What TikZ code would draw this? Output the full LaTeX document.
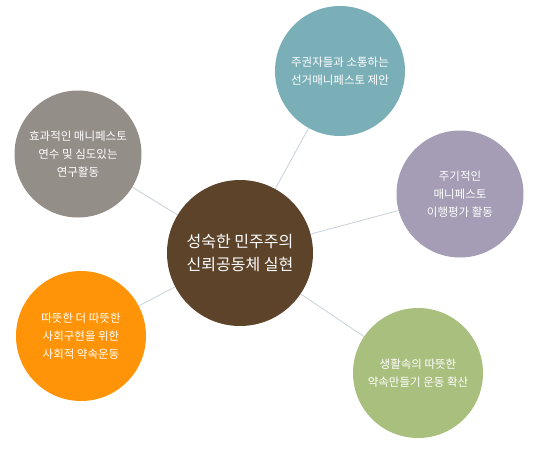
\documentclass[tikz,border=0pt]{standalone}
\usepackage{fontspec}
\setmainfont{Noto Sans CJK KR}
\usepackage{xcolor}
\usetikzlibrary{positioning}
\definecolor{link}{HTML}{C9D1DA}
\definecolor{brown}{HTML}{5C4329}
\definecolor{teal}{HTML}{7BAFB8}
\definecolor{stone}{HTML}{948E88}
\definecolor{lilac}{HTML}{A49DB5}
\definecolor{amber}{HTML}{FF9408}
\definecolor{olive}{HTML}{A9BF7E}

\begin{document}
\begin{tikzpicture}[x=1pt,y=-1pt,
  every node/.style={text=white,align=center},
  bubble/.style={circle,inner sep=0pt,minimum size=130pt,font=\fontsize{11.5}{18}\selectfont},
  hub/.style={circle,inner sep=0pt,minimum size=146pt,fill=brown,font=\fontsize{16}{23}\selectfont},
  link/.style={draw=link,line width=0.8pt}]
  \useasboundingbox (0,0) rectangle (539,451);
  \node[hub] (core) at (240,253) {성숙한 민주주의\\신뢰공동체 실현};
  \node[bubble,fill=teal] (talk) at (340,71) {주권자들과 소통하는\\선거매니페스토 제안};
  \node[bubble,fill=stone,minimum size=127pt] (study) at (78,154) {효과적인 매니페스토\\연수 및 심도있는\\연구활동};
  \node[bubble,fill=lilac,minimum size=127pt] (check) at (460,194) {주기적인\\매니페스토\\이행평가 활동};
  \node[bubble,fill=amber] (warm) at (81,336) {따뜻한 더 따뜻한\\사회구현을 위한\\사회적 약속운동};
  \node[bubble,fill=olive] (life) at (418,373) {생활속의 따뜻한\\약속만들기 운동 확산};
  % connectors
  \draw[link] (core) -- (talk);
  \draw[link] (core) -- (study);
  \draw[link] (core) -- (check);
  \draw[link] (core) -- (warm);
  \draw[link] (core) -- (life);
\end{tikzpicture}
\end{document}
